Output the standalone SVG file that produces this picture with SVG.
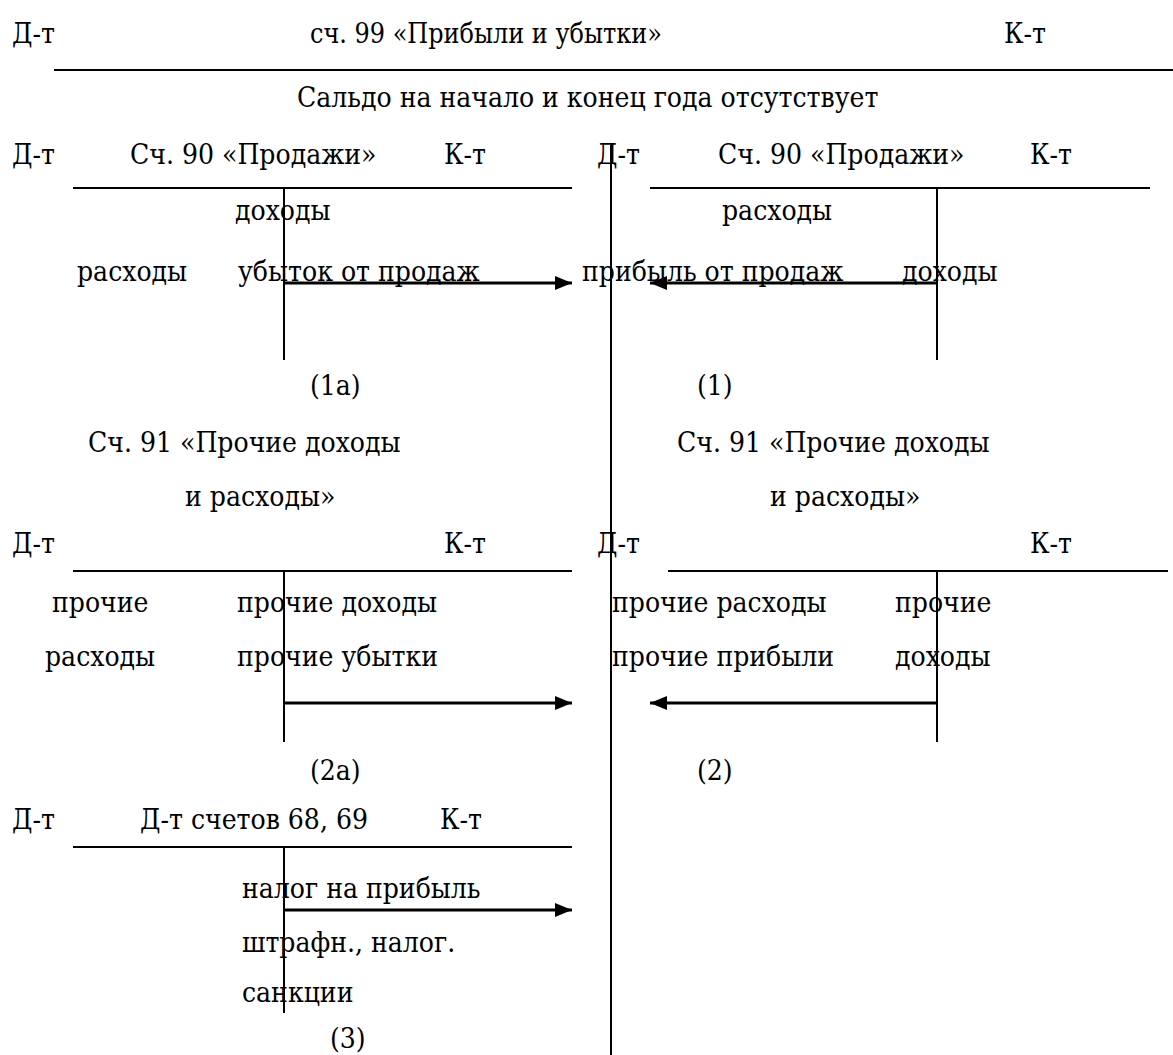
<svg xmlns="http://www.w3.org/2000/svg" width="1173" height="1055" viewBox="0 0 1173 1055">
<style>
text{font-family:"DejaVu Serif Condensed","DejaVu Serif",serif;font-size:28px;fill:#000}
.ln{stroke:#000;stroke-width:2;fill:none}
.ar{stroke:#000;stroke-width:3;fill:none;marker-end:url(#ah)}
</style>
<defs>
<marker id="ah" markerUnits="userSpaceOnUse" markerWidth="18" markerHeight="16" refX="17" refY="8" orient="auto">
<path d="M0,1 L17,8 L0,15 Z" fill="#000"/>
</marker>
</defs>
<rect width="1173" height="1055" fill="#fff"/>
<g id="acc99">
<text x="12" y="43">Д-т</text>
<text x="310" y="43" textLength="352" lengthAdjust="spacingAndGlyphs">сч. 99 «Прибыли и убытки»</text>
<text x="1004" y="43">К-т</text>
<line class="ln" x1="54" y1="70" x2="1173" y2="70"/>
<text x="297" y="107">Сальдо на начало и конец года отсутствует</text>
<line class="ln" x1="611" y1="145" x2="611" y2="1055"/>
</g>
<g id="acc90a">
<text x="12" y="164">Д-т</text>
<text x="130" y="164">Сч. 90 «Продажи»</text>
<text x="444" y="164">К-т</text>
<line class="ln" x1="73" y1="188" x2="572" y2="188"/>
<line class="ln" x1="284" y1="188" x2="284" y2="360"/>
<text x="235" y="220">доходы</text>
<text x="77" y="281">расходы</text>
<text x="238" y="281">убыток от продаж</text>
<text x="310" y="395">(1а)</text>
</g>
<g id="acc90b">
<text x="597" y="164">Д-т</text>
<text x="718" y="164">Сч. 90 «Продажи»</text>
<text x="1030" y="164">К-т</text>
<line class="ln" x1="650" y1="188" x2="1150" y2="188"/>
<line class="ln" x1="937" y1="188" x2="937" y2="360"/>
<text x="722" y="220">расходы</text>
<text x="582" y="281">прибыль от продаж</text>
<text x="902" y="281">доходы</text>
<text x="697" y="395">(1)</text>
</g>
<g id="acc91a">
<text x="88" y="452">Сч. 91 «Прочие доходы</text>
<text x="185" y="506">и расходы»</text>
<text x="12" y="553">Д-т</text>
<text x="444" y="553">К-т</text>
<line class="ln" x1="73" y1="571" x2="572" y2="571"/>
<line class="ln" x1="284" y1="571" x2="284" y2="742"/>
<text x="52" y="612">прочие</text>
<text x="237" y="612">прочие доходы</text>
<text x="45" y="666">расходы</text>
<text x="237" y="666">прочие убытки</text>
<text x="310" y="780">(2а)</text>
</g>
<g id="acc91b">
<text x="677" y="452">Сч. 91 «Прочие доходы</text>
<text x="770" y="506">и расходы»</text>
<text x="597" y="553">Д-т</text>
<text x="1030" y="553">К-т</text>
<line class="ln" x1="668" y1="571" x2="1168" y2="571"/>
<line class="ln" x1="937" y1="571" x2="937" y2="742"/>
<text x="612" y="612">прочие расходы</text>
<text x="895" y="612">прочие</text>
<text x="612" y="666">прочие прибыли</text>
<text x="895" y="666">доходы</text>
<text x="697" y="780">(2)</text>
</g>
<g id="acc68">
<text x="12" y="829">Д-т</text>
<text x="140" y="829">Д-т счетов 68, 69</text>
<text x="440" y="829">К-т</text>
<line class="ln" x1="73" y1="847" x2="572" y2="847"/>
<line class="ln" x1="284" y1="847" x2="284" y2="1013"/>
<text x="242" y="898">налог на прибыль</text>
<text x="242" y="952">штрафн., налог.</text>
<text x="242" y="1002">санкции</text>
<text x="330" y="1048">(3)</text>
</g>
<g id="connectors">
<line class="ar" x1="284" y1="283" x2="572" y2="283"/>
<line class="ar" x1="937" y1="283" x2="650" y2="283"/>
<line class="ar" x1="284" y1="703" x2="572" y2="703"/>
<line class="ar" x1="937" y1="703" x2="650" y2="703"/>
<line class="ar" x1="284" y1="910" x2="572" y2="910"/>
</g>
</svg>
